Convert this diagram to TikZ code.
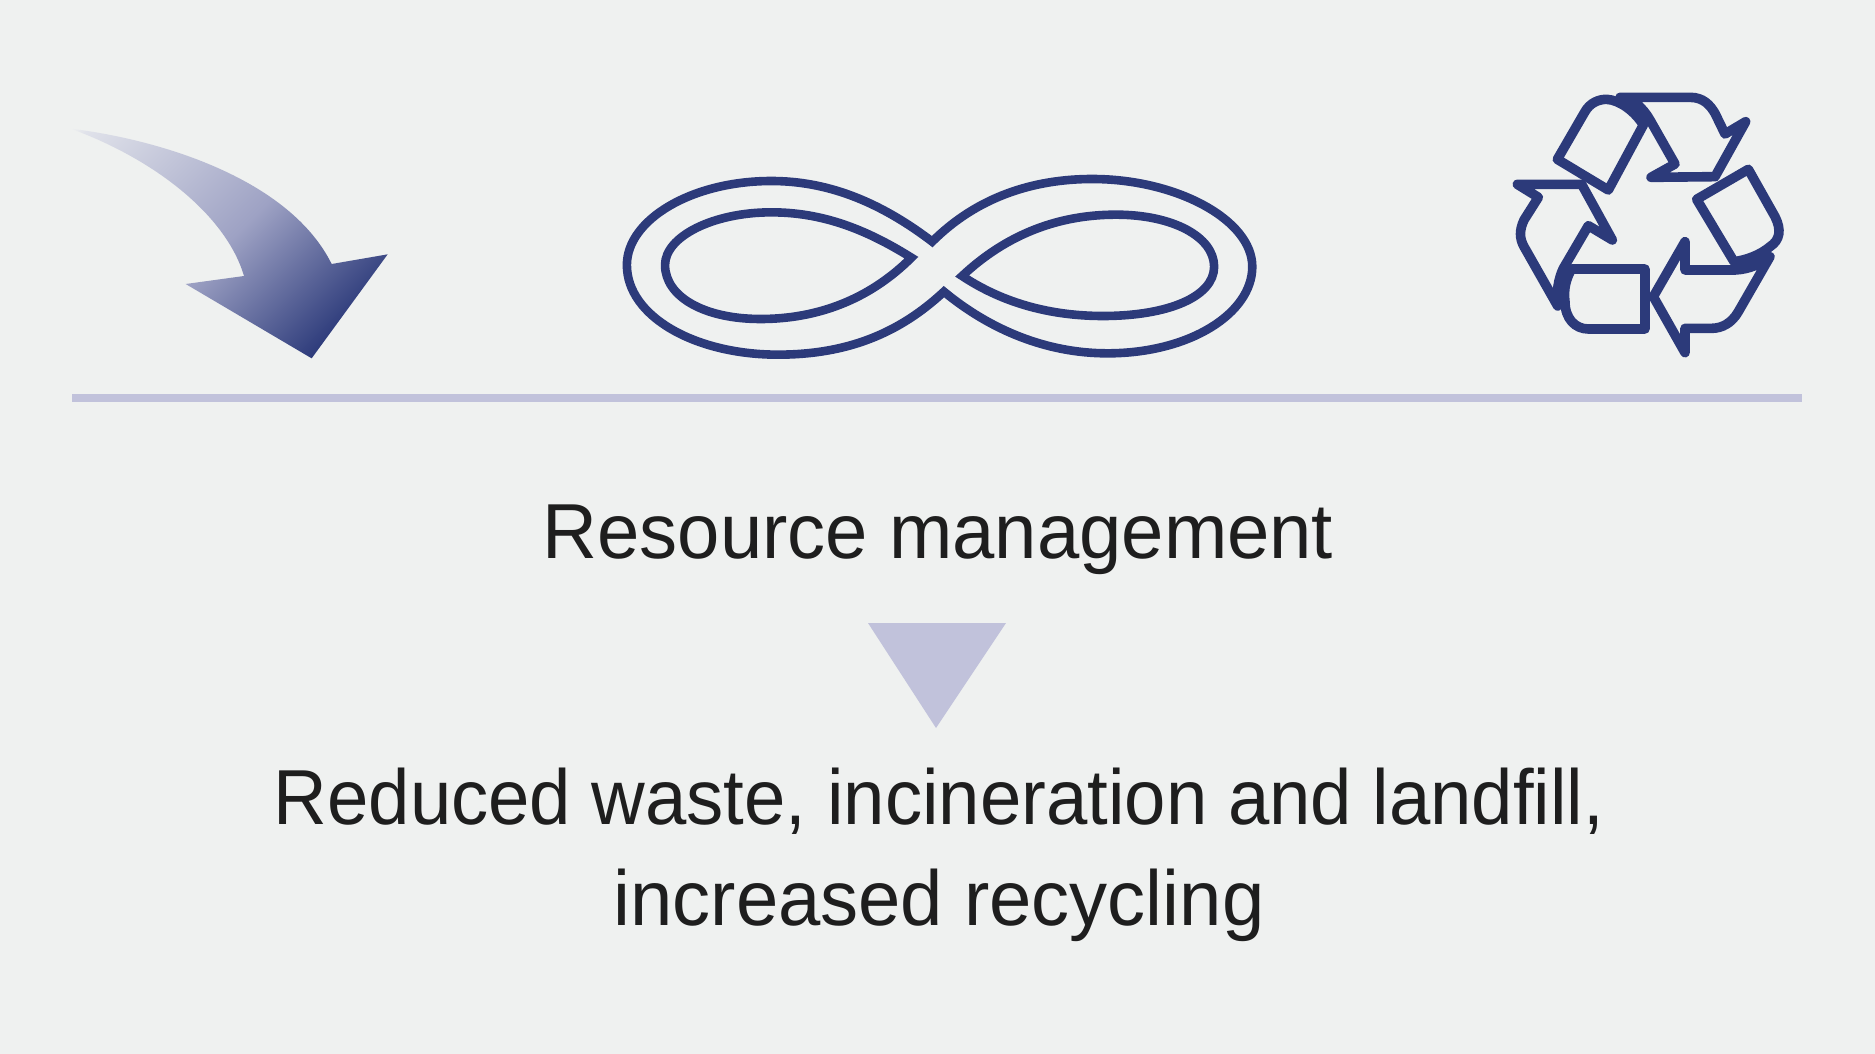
\documentclass[tikz,border=0pt]{standalone}
\usepackage{fontspec}
\setmainfont[FakeStretch=0.953]{Liberation Sans}
\newfontfamily\widerface[FakeStretch=0.975]{Liberation Sans}
\definecolor{bgc}{RGB}{239,241,240}
\definecolor{navy}{RGB}{44,58,122}
\definecolor{lilac}{RGB}{193,194,219}
\definecolor{inkc}{RGB}{30,30,30}
\definecolor{midc}{RGB}{158,162,196}
\definecolor{palec}{RGB}{224,226,234}
\pgfdeclareverticalshading{arrowgrad}{700bp}{color(0bp)=(bgc); color(12bp)=(palec); color(190bp)=(midc); color(332bp)=(navy)}
\tikzset{
  iconline/.style={draw=navy,line width=8.6pt,line join=miter,miter limit=10},
  recline/.style={draw=navy,line width=9.6pt,line join=round},
  bigtext/.style={text=inkc,inner sep=0pt,anchor=base,font=\fontsize{78}{90}\selectfont},
}
\begin{document}
\begin{tikzpicture}[x=1pt,y=-1pt]
\useasboundingbox (0,0) rectangle (1875,1054);
\fill[bgc] (0,0) rectangle (1875,1054);
% swoosh arrow
\begin{scope}
\begin{scope}[shift={(50,110)},scale=1/3]
\clip (62,56) .. controls (340,90) and (720,210) .. (845,462) -- (1013,433) -- (785,745) -- (407,522) -- (582,498) .. controls (530,320) and (320,150) .. (62,56) -- cycle;
\node[inner sep=0pt,rotate=-135] (grad) at (426,401) {\pgfuseshading{arrowgrad}};
\end{scope}
\end{scope}
% infinity
\begin{scope}[shift={(600,150)},xscale=0.4337,yscale=1/3]
\draw[iconline] (766,275) .. controls (640,150) and (520,93) .. (395,93) .. controls (210,93) and (62,210) .. (62,345) .. controls (62,500) and (220,614) .. (410,614) .. controls (570,614) and (690,550) .. (793,425) .. controls (900,540) and (1030,610) .. (1170,610) .. controls (1360,610) and (1504,490) .. (1504,350) .. controls (1504,210) and (1330,87) .. (1135,87) .. controls (1000,87) and (870,140) .. (766,275) -- cycle;
\draw[iconline] (718,323) .. controls (610,235) and (510,187) .. (395,187) .. controls (260,187) and (150,260) .. (150,345) .. controls (150,440) and (240,507) .. (370,507) .. controls (500,507) and (620,450) .. (718,323) -- cycle;
\draw[iconline] (835,378) .. controls (940,250) and (1060,194) .. (1190,194) .. controls (1320,194) and (1416,260) .. (1416,350) .. controls (1416,440) and (1310,498) .. (1160,498) .. controls (1040,498) and (930,460) .. (835,378) -- cycle;
\end{scope}
% recycling
\begin{scope}[shift={(1480,70)},scale=1/3]
\fill[navy] (420,82) .. controls (460,85) and (490,115) .. (510,150) -- (490,165) .. controls (465,125) and (420,90) .. (380,88) -- cycle;
\fill[navy] (870,560) .. controls (845,580) and (810,598) .. (765,600) -- (762,575) .. controls (800,570) and (840,555) .. (870,530) -- cycle;
\fill[navy] (233,708) .. controls (228,670) and (235,625) .. (250,595) -- (275,597) .. controls (258,625) and (250,660) .. (255,695) -- cycle;
\draw[recline] (232,268) -- (312,130) .. controls (330,95) and (360,88) .. (380,88) .. controls (420,90) and (465,125) .. (490,165) -- (385,360) -- cycle;
\draw[recline] (420,82) -- (630,82) .. controls (670,82) and (690,105) .. (705,130) -- (735,192) -- (797,155) -- (705,320) -- (513,322) -- (585,282) -- (510,150) .. controls (490,115) and (460,85) .. (420,82) -- cycle;
\draw[recline] (650,388) -- (805,298) -- (885,440) .. controls (905,480) and (900,510) .. (870,530) .. controls (840,555) and (800,570) .. (762,575) -- cycle;
\draw[recline] (870,560) -- (775,725) .. controls (755,760) and (725,775) .. (695,775) -- (615,775) -- (615,848) -- (520,680) -- (615,515) -- (615,600) -- (765,600) .. controls (810,598) and (845,580) .. (870,560) -- cycle;
\draw[recline] (495,597) -- (495,777) -- (325,777) .. controls (285,777) and (255,745) .. (255,695) .. controls (250,660) and (258,625) .. (275,597) -- cycle;
\draw[recline] (112,343) -- (305,343) -- (397,510) -- (325,467) -- (250,595) .. controls (235,625) and (228,670) .. (233,708) -- (132,530) .. controls (118,505) and (118,480) .. (132,450) -- (175,382) -- cycle;
\end{scope}
% rule and triangle
\fill[lilac] (72,394) rectangle (1802,402);
\fill[lilac] (868,623) -- (1006,623) -- (936,728) -- cycle;
% text
\node[bigtext] (t1) at (938,558) {\widerface Resource management};
\node[bigtext] (t2) at (939,824) {Reduced waste, incineration and landfill,};
\node[bigtext] (t3) at (939,925) {\widerface increased recycling};
\end{tikzpicture}
\end{document}
